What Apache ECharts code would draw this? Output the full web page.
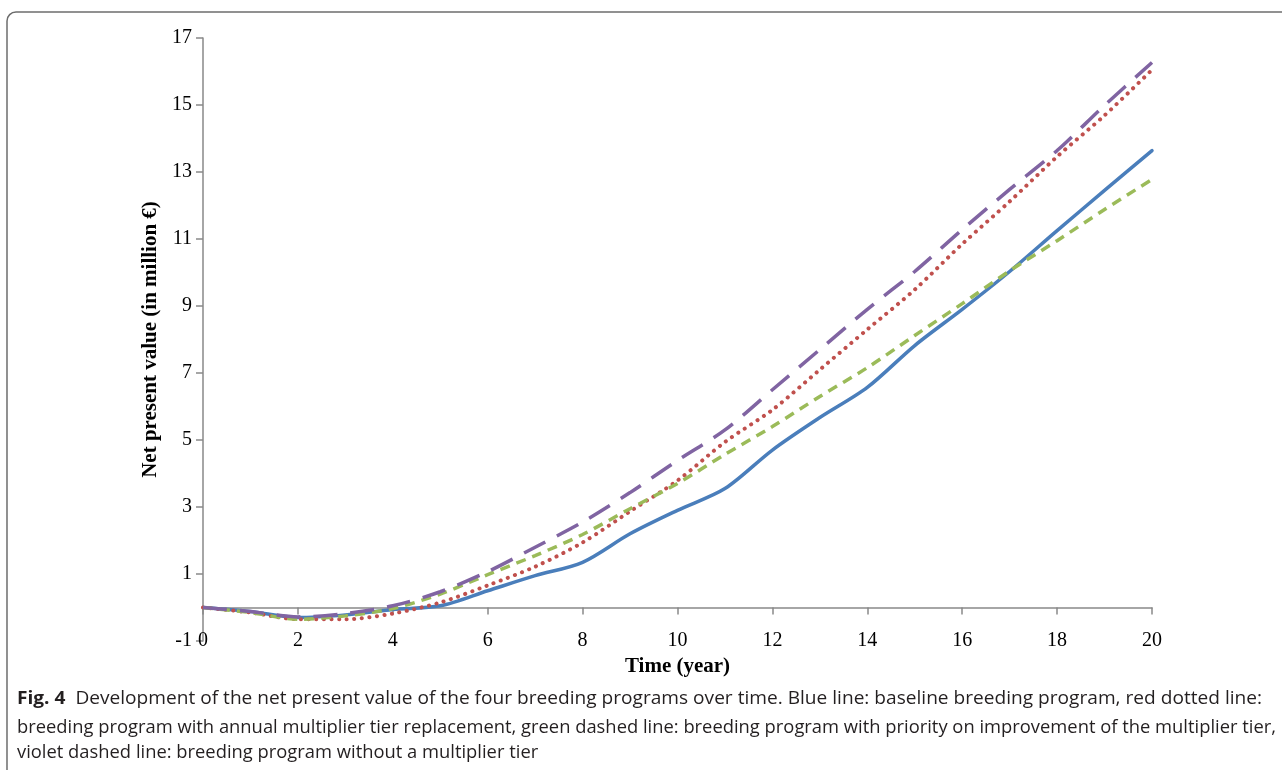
<!DOCTYPE html>
<html>
<head>
<meta charset="utf-8">
<script src="https://cdn.jsdelivr.net/npm/echarts@6/dist/echarts.min.js"></script>
<style>
  html, body { margin: 0; padding: 0; background: #fff; }
  #chart { width: 1282px; height: 770px; }
</style>
</head>
<body>
<div id="chart"></div>
<script>
// years and net present value (million €) per program
const years = [0, 1, 2, 3, 4, 5, 6, 7, 8, 9, 10, 11, 12, 13, 14, 15, 16, 17, 18, 19, 20];
const baseline = [0, -0.12, -0.3, -0.22, -0.06, 0.05, 0.5, 0.95, 1.35, 2.2, 2.9, 3.55, 4.7, 5.67, 6.57, 7.82, 8.9, 10.03, 11.25, 12.45, 13.64];
const annualReplacement = [0, -0.15, -0.35, -0.35, -0.18, 0.15, 0.66, 1.22, 1.94, 2.87, 3.79, 4.94, 5.9, 7.1, 8.3, 9.49, 10.85, 12.12, 13.46, 14.69, 16.05];
const priorityMultiplier = [0, -0.15, -0.35, -0.25, -0.03, 0.4, 0.98, 1.55, 2.18, 2.95, 3.7, 4.57, 5.4, 6.3, 7.16, 8.12, 9.07, 10.05, 10.95, 11.88, 12.78];
const noMultiplier = [0, -0.12, -0.28, -0.18, 0.05, 0.47, 1.07, 1.8, 2.55, 3.43, 4.39, 5.3, 6.5, 7.7, 8.9, 10.03, 11.28, 12.48, 13.64, 14.99, 16.27];

const captionFig = 'Fig. 4';
const captionLines = [
  'Development of the net present value of the four breeding programs over time. Blue line: baseline breeding program, red dotted line:',
  'breeding program with annual multiplier tier replacement, green dashed line: breeding program with priority on improvement of the multiplier tier,',
  'violet dashed line: breeding program without a multiplier tier'
];

const serif = '"Liberation Serif", "Times New Roman", serif';
const sans = '"Open Sans", "Noto Sans", sans-serif';
const axisGray = '#898989';

function pairs(vals) {
  return years.map((x, i) => [x, vals[i]]);
}

// squeeze caption lines to the widths they have in the figure
const mctx = document.createElement('canvas').getContext('2d');
function textW(str, font) {
  mctx.font = font;
  return mctx.measureText(str).width;
}
const capSize = 17.5;
const capFont = capSize + 'px ' + sans;
const capBold = 'bold ' + capSize + 'px ' + sans;
const figW = textW(captionFig + '  ', capBold);
const s1 = 1245 / (figW + textW(captionLines[0], capFont));
const s2 = 1259 / textW(captionLines[1], capFont);

function capText(x, y, text, bold, sc) {
  return {
    type: 'text', x: x, y: y, scaleX: sc,
    style: {
      text: text, fontSize: capSize, fontFamily: sans,
      fontWeight: bold ? 'bold' : 'normal',
      fill: '#231f20', verticalAlign: 'middle'
    }
  };
}

function line(name, vals, color, dash, cap, width) {
  return {
    name: name,
    type: 'line',
    data: pairs(vals),
    smooth: 0.3,
    showSymbol: false,
    lineStyle: { color: color, width: width || 3.5, type: dash, cap: cap || 'butt' }
  };
}

const chart = echarts.init(document.getElementById('chart'));
chart.setOption({
  animation: false,
  grid: { left: 203, right: 130, top: 38, bottom: 129 },
  xAxis: [
    {
      type: 'value', min: 0, max: 20, interval: 2,
      axisLine: { onZero: true, lineStyle: { color: axisGray, width: 1.5 } },
      axisTick: { length: 7, lineStyle: { color: axisGray, width: 1.5 } },
      axisLabel: { show: false },
      splitLine: { show: false }
    },
    {
      type: 'value', min: 0, max: 20, interval: 2, position: 'bottom',
      axisLine: { show: false, onZero: false },
      axisTick: { show: false },
      splitLine: { show: false },
      axisLabel: {
        margin: 0, verticalAlign: 'middle',
        fontFamily: serif, fontSize: 20, color: '#000'
      },
      name: 'Time (year)', nameLocation: 'middle', nameGap: 13,
      nameTextStyle: { fontFamily: serif, fontSize: 21, fontWeight: 'bold', color: '#000', verticalAlign: 'top' }
    }
  ],
  yAxis: {
    type: 'value', min: -1, max: 17, interval: 2,
    axisLine: { show: true, lineStyle: { color: axisGray, width: 1.5 } },
    axisTick: { show: true, length: 7, lineStyle: { color: axisGray, width: 1.5 } },
    splitLine: { show: false },
    axisLabel: { margin: 11, fontFamily: serif, fontSize: 20, color: '#000' },
    name: 'Net present value (in million €)', nameLocation: 'middle', nameGap: 30, nameRotate: 90,
    nameTextStyle: { fontFamily: serif, fontSize: 21, fontWeight: 'bold', color: '#000' }
  },
  series: [
    line('Baseline', baseline, '#4a7ebb', 'solid', 'round'),
    line('Annual multiplier tier replacement', annualReplacement, '#c0504d', [0.1, 7.5], 'round', 4),
    line('Priority on multiplier tier', priorityMultiplier, '#9bbb59', [10, 7]),
    line('Without multiplier tier', noMultiplier, '#8064a2', [24, 13])
  ],
  graphic: [
    {
      type: 'rect', silent: true,
      shape: { x: 7, y: 12, width: 1300, height: 800, r: 9 },
      style: { fill: 'none', stroke: '#6d6d6d', lineWidth: 1.5 }
    },
    capText(17, 699, captionFig, true, s1),
    capText(17 + figW * s1, 699, captionLines[0], false, s1),
    capText(17, 728, captionLines[1], false, s2),
    capText(17, 753, captionLines[2], false, s2)
  ]
});
</script>
</body>
</html>
